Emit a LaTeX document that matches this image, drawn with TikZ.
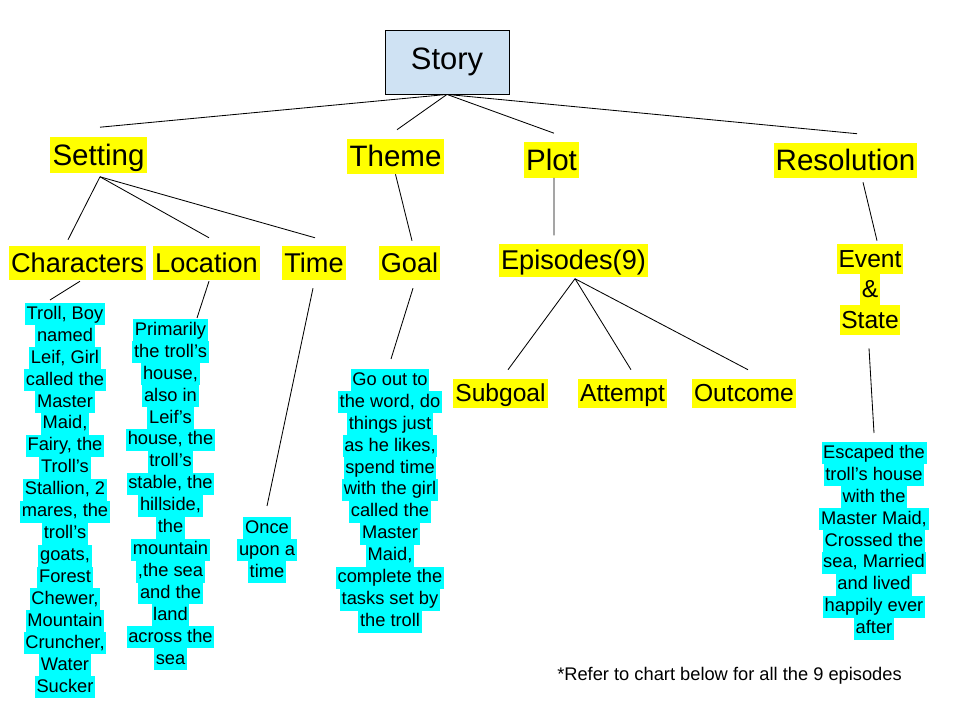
\documentclass[tikz,border=0pt]{standalone}
\usepackage{fontspec}
\setmainfont{Liberation Sans}
\usetikzlibrary{calc}
\definecolor{hiyellow}{HTML}{FFFF00}
\definecolor{hicyan}{HTML}{00FFFF}
\definecolor{storyblue}{HTML}{CFE2F3}
\setlength{\fboxsep}{0pt}
\newcommand{\cyl}[1]{\colorbox{hicyan}{\rule[-4.2pt]{0pt}{15.6pt}\hspace{1.2pt}#1\hspace{1.2pt}}}
\newcommand{\yll}[1]{\colorbox{hiyellow}{\rule[-5pt]{0pt}{21.6pt}\hspace{1.2pt}#1\hspace{1.2pt}}}

\begin{document}
\begin{tikzpicture}[x=0.025cm, y=-0.025cm,
    lvlone/.style={fill=hiyellow, inner xsep=1.5pt, inner ysep=0pt, font=\fontsize{21}{25}\selectfont, text height=19.6pt, text depth=5.3pt},
    lvltwo/.style={fill=hiyellow, inner xsep=1.5pt, inner ysep=0pt, font=\fontsize{19.3}{23}\selectfont, text height=18.8pt, text depth=5.3pt},
    lvlthree/.style={fill=hiyellow, inner xsep=1.5pt, inner ysep=0pt, font=\fontsize{17.5}{21}\selectfont, text height=16.2pt, text depth=4.4pt},
    leaf/.style={inner sep=0pt, align=center, font=\fontsize{13}{15.6}\selectfont},
    link/.style={line width=0.6pt}]
    \useasboundingbox (0,0) rectangle (960,720);
    \node[draw, line width=0.6pt, fill=storyblue, minimum width=3.1cm, minimum height=1.6cm, font=\fontsize{22}{26}\selectfont] (story) at (447,62) {Story};
    \node[lvlone] (setting) at (98.5,155) {Setting};
    \node[lvlone] (theme) at (395.5,156.5) {Theme};
    \node[lvlone] (plot) at (551.5,160) {Plot};
    \node[lvlone] (resolution) at (845.5,160.5) {Resolution};
    \node[lvltwo] (characters) at (77.5,263) {Characters};
    \node[lvltwo] (location) at (206.5,263) {Location};
    \node[lvltwo] (time) at (314,263) {Time};
    \node[lvltwo] (goal) at (409.5,263) {Goal};
    \node[lvltwo] (episodes) at (573.5,260.5) {Episodes(9)};
    \node[inner sep=0pt, align=center, font=\fontsize{17.5}{21.6}\selectfont] (eventstate) at (870,289.5) {\yll{Event}\\\yll{\&}\\\yll{State}};
    \node[lvlthree] (subgoal) at (500.5,393.5) {Subgoal};
    \node[lvlthree] (attempt) at (622.5,393.5) {Attempt};
    \node[lvlthree] (outcome) at (744,393.5) {Outcome};
    \node[leaf, anchor=north] (chartext) at (65,303) {\cyl{Troll, Boy}\\\cyl{named}\\\cyl{Leif, Girl}\\\cyl{called the}\\\cyl{Master}\\\cyl{Maid,}\\\cyl{Fairy, the}\\\cyl{Troll’s}\\\cyl{Stallion, 2}\\\cyl{mares, the}\\\cyl{troll’s}\\\cyl{goats,}\\\cyl{Forest}\\\cyl{Chewer,}\\\cyl{Mountain}\\\cyl{Cruncher,}\\\cyl{Water}\\\cyl{Sucker}};
    \node[leaf, anchor=north] (loctext) at (170.5,319) {\cyl{Primarily}\\\cyl{the troll’s}\\\cyl{house,}\\\cyl{also in}\\\cyl{Leif’s}\\\cyl{house, the}\\\cyl{troll’s}\\\cyl{stable, the}\\\cyl{hillside,}\\\cyl{the}\\\cyl{mountain}\\\cyl{,the sea}\\\cyl{and the}\\\cyl{land}\\\cyl{across the}\\\cyl{sea}};
    \node[leaf, anchor=north] (timetext) at (267,517) {\cyl{Once}\\\cyl{upon a}\\\cyl{time}};
    \node[leaf, anchor=north] (goaltext) at (390,369) {\cyl{Go out to}\\\cyl{the word, do}\\\cyl{things just}\\\cyl{as he likes,}\\\cyl{spend time}\\\cyl{with the girl}\\\cyl{called the}\\\cyl{Master}\\\cyl{Maid,}\\\cyl{complete the}\\\cyl{tasks set by}\\\cyl{the troll}};
    \node[leaf, anchor=north] (restext) at (874,442) {\cyl{Escaped the}\\\cyl{troll’s house}\\\cyl{with the}\\\cyl{Master Maid,}\\\cyl{Crossed the}\\\cyl{sea, Married}\\\cyl{and lived}\\\cyl{happily ever}\\\cyl{after}};
    \node[font=\fontsize{13}{15.6}\selectfont] (note) at (729.5,676) {*Refer to chart below for all the 9 episodes};
    \draw[link] (story.south) -- ($(setting.north)+(1.5,-10)$);
    \draw[link] (story.south) -- ($(theme.north)+(1.5,-9)$);
    \draw[link] (story.south) -- ($(plot.north)+(2.5,-9)$);
    \draw[link] (story.south) -- ($(resolution.north)+(11.5,-9)$);
    \draw[link] ($(setting.south)+(1.5,4)$) -- ($(characters.north)+(-9.5,-6)$);
    \draw[link] ($(setting.south)+(1.5,4)$) -- ($(location.north)+(2.5,-8)$);
    \draw[link] ($(setting.south)+(1.5,4)$) -- ($(time.north)+(1,-8)$);
    \draw[link] (theme.south) -- ($(goal.north)+(2.5,-5)$);
    \draw[link] ($(plot.south)+(2.5,0)$) -- ($(episodes.north)+(-19.5,-8)$);
    \draw[link] ($(resolution.south)+(17.5,4)$) -- ($(eventstate.north)+(7,-3)$);
    \draw[link] ($(episodes.south)+(1.5,1)$) -- ($(subgoal.north)+(7.5,-9)$);
    \draw[link] ($(episodes.south)+(1.5,1)$) -- ($(attempt.north)+(8.5,-9)$);
    \draw[link] ($(episodes.south)+(1.5,1)$) -- ($(outcome.north)+(4,-9)$);
    \draw[link] ($(characters.south)+(2.5,1)$) -- ($(chartext.north)+(-15,-3)$);
    \draw[link] ($(location.south)+(2.5,1)$) -- ($(loctext.north)+(26.5,-1)$);
    \draw[link] ($(time.south)+(-1,8)$) -- ($(timetext.north)+(0,-11)$);
    \draw[link] ($(goal.south)+(3.5,8)$) -- ($(goaltext.north)+(1,-10)$);
    \draw[link] ($(eventstate.south)+(-1,13)$) -- ($(restext.north)+(0,-9)$);
\end{tikzpicture}
\end{document}
